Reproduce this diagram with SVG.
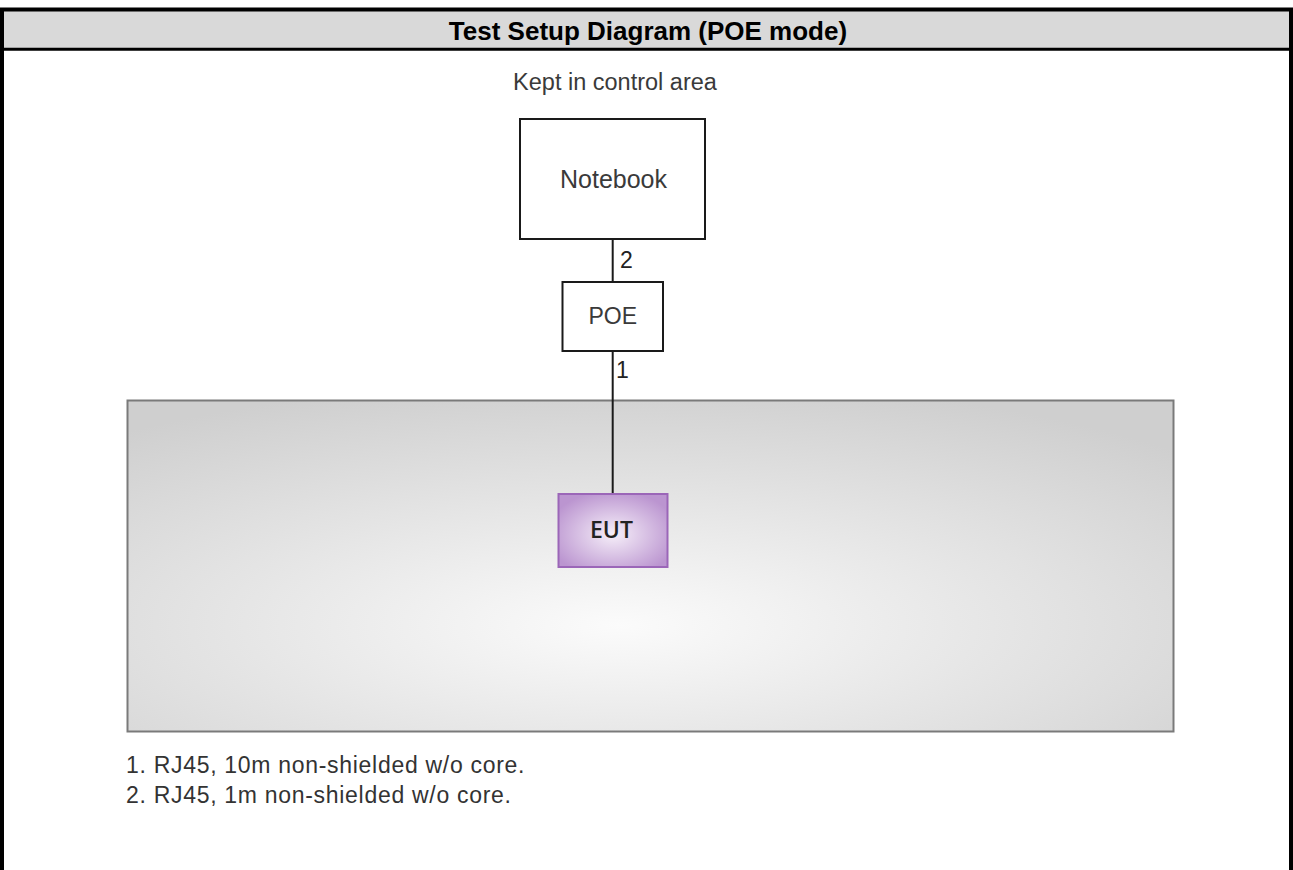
<svg xmlns="http://www.w3.org/2000/svg" width="1293" height="870" viewBox="0 0 1293 870">
<defs>
<radialGradient id="areaGrad" cx="0.47" cy="0.68" r="0.75" gradientUnits="objectBoundingBox">
<stop offset="0" stop-color="#fbfbfb"/>
<stop offset="1" stop-color="#cfcfcf"/>
</radialGradient>
<radialGradient id="eutGrad" cx="0.5" cy="0.55" r="0.6">
<stop offset="0" stop-color="#f6eff9"/>
<stop offset="1" stop-color="#bb95d0"/>
</radialGradient>
</defs>
<style>
.t{font-family:"Liberation Sans",Arial,sans-serif;}
.box{fill:#ffffff;stroke:#1a1a1a;stroke-width:2;}
.lbl{font-family:"Liberation Sans",Arial,sans-serif;fill:#3a3a3a;text-anchor:middle;}
.wire{stroke:#1a1a1a;stroke-width:2;fill:none;}
.note{font-family:"Liberation Sans",Arial,sans-serif;font-size:23px;letter-spacing:0.7px;fill:#333;}
</style>
<rect x="0" y="0" width="1293" height="870" fill="#ffffff"/>
<g id="frame">
<rect x="2" y="9.5" width="1289" height="39.5" fill="#d9d9d9"/>
<rect x="2" y="9.5" width="1289" height="900" fill="none" stroke="#000" stroke-width="4"/>
<line x1="2" y1="49.2" x2="1291" y2="49.2" stroke="#000" stroke-width="3"/>
<text class="t" x="648" y="40" font-size="26" font-weight="bold" text-anchor="middle" fill="#000">Test Setup Diagram (POE mode)</text>
</g>
<g id="control-label">
<text class="lbl" x="615" y="90" font-size="23.5">Kept in control area</text>
</g>
<g id="test-area">
<rect x="127.5" y="400.5" width="1046" height="331" fill="url(#areaGrad)" stroke="#7a7a7a" stroke-width="2"/>
</g>
<g id="connectors">
<line class="wire" x1="612.7" y1="239" x2="612.7" y2="282"/>
<line class="wire" x1="612.7" y1="351" x2="612.7" y2="494"/>
<text class="t" x="620" y="268" font-size="23" fill="#222">2</text>
<text class="t" x="616" y="378" font-size="23" fill="#222">1</text>
</g>
<g id="notebook">
<rect class="box" x="520" y="119" width="185" height="120"/>
<text class="lbl" x="613.5" y="188.3" font-size="25">Notebook</text>
</g>
<g id="poe">
<rect class="box" x="562.5" y="282" width="100.5" height="69"/>
<text class="lbl" x="612.8" y="324" font-size="23">POE</text>
</g>
<g id="eut">
<rect x="558.5" y="494" width="109" height="73" fill="url(#eutGrad)" stroke="#9b66b8" stroke-width="2"/>
<text x="611.5" y="538" font-family="'Open Sans','Liberation Sans',sans-serif" font-size="23" font-weight="600" fill="#222" text-anchor="middle">EUT</text>
</g>
<g id="notes">
<text class="note" x="126" y="773.3">1. RJ45, 10m non-shielded w/o core.</text>
<text class="note" x="126" y="803.3">2. RJ45, 1m non-shielded w/o core.</text>
</g>
</svg>
